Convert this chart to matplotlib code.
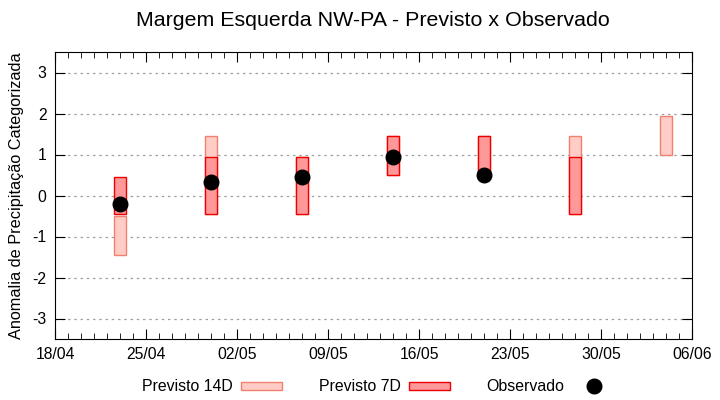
import numpy as np
import pandas as pd
import matplotlib

matplotlib.use("Agg")
import matplotlib.pyplot as plt
from matplotlib.patches import Patch
from matplotlib.lines import Line2D

plt.rcParams["font.family"] = ["Liberation Sans", "DejaVu Sans"]
plt.rcParams["axes.unicode_minus"] = False

dates = pd.to_datetime(["2023-04-23", "2023-04-30", "2023-05-07", "2023-05-14",
                        "2023-05-21", "2023-05-28", "2023-06-04"])
# forecast ranges (low, high) of categorized anomaly
prev14_low = [-1.45, -0.45, -0.45, 0.5, 0.5, -0.45, 1.0]
prev14_high = [-0.5, 1.45, 0.95, 1.45, 1.45, 1.45, 1.95]
prev7_low = [-0.45, -0.45, -0.45, 0.5, 0.5, -0.45, np.nan]
prev7_high = [0.45, 0.95, 0.95, 1.45, 1.45, 0.95, np.nan]
observado = [-0.2, 0.34, 0.46, 0.94, 0.49, np.nan, np.nan]

fig = plt.figure(figsize=(7.2, 4.0), dpi=100)
ax = fig.add_axes([55 / 720, 1 - 339 / 400, 637 / 720, 287 / 400])

c14_face, c14_edge = "#ffccc6", "#f08070"
c7_face, c7_edge = "#ff9999", "#ee0000"
w = 0.95

h14 = np.array(prev14_high) - np.array(prev14_low)
ax.bar(dates, h14, bottom=prev14_low, width=w, color=c14_face,
       edgecolor=c14_edge, linewidth=1.0, zorder=2)
h7 = np.array(prev7_high) - np.array(prev7_low)
ax.bar(dates, h7, bottom=prev7_low, width=w, color=c7_face,
       edgecolor=c7_edge, linewidth=1.0, zorder=3)
ax.plot(dates, observado, "o", color="black", markersize=10.5, zorder=4)

ax.set_ylim(-3.5, 3.5)
ax.set_yticks(range(-3, 4))
ax.set_xlim(pd.Timestamp("2023-04-18"), pd.Timestamp("2023-06-06"))
xt = pd.date_range("2023-04-18", "2023-06-06", freq="7D")
ax.set_xticks(xt)
ax.set_xticklabels([d.strftime("%d/%m") for d in xt])
ax.set_xticks(pd.date_range("2023-04-18", "2023-06-06", freq="1D"), minor=True)
ax.tick_params(which="both", direction="in", top=True, right=True, labelsize=11.3)
ax.tick_params(which="major", length=7, pad=6)
ax.tick_params(which="minor", length=4)
ax.tick_params(axis="y", which="minor", left=False, right=False)
ax.grid(True, axis="y", linestyle=(0, (2, 3)), color="#a0a0a0", linewidth=0.9)
ax.set_axisbelow(True)
ax.set_ylabel("Anomalia de Precipitação Categorizada", fontsize=11.7, labelpad=6)

fig.suptitle("Margem Esquerda NW-PA - Previsto x Observado", fontsize=15.4,
             x=0.518, y=0.972)

handles = [
    Patch(facecolor=c14_face, edgecolor=c14_edge, linewidth=1.0),
    Patch(facecolor=c7_face, edgecolor=c7_edge, linewidth=1.0),
    Line2D([], [], marker="o", linestyle="none", color="black", markersize=10.5),
]
fig.legend(handles, ["Previsto 14D", "Previsto 7D", "Observado"], ncol=3,
           loc="center", bbox_to_anchor=(0.525, 0.033), frameon=False,
           markerfirst=False, fontsize=11.4, handlelength=2.6, handleheight=0.4,
           handletextpad=0.55, columnspacing=2.3)

fig.savefig("out.png", dpi=100)
